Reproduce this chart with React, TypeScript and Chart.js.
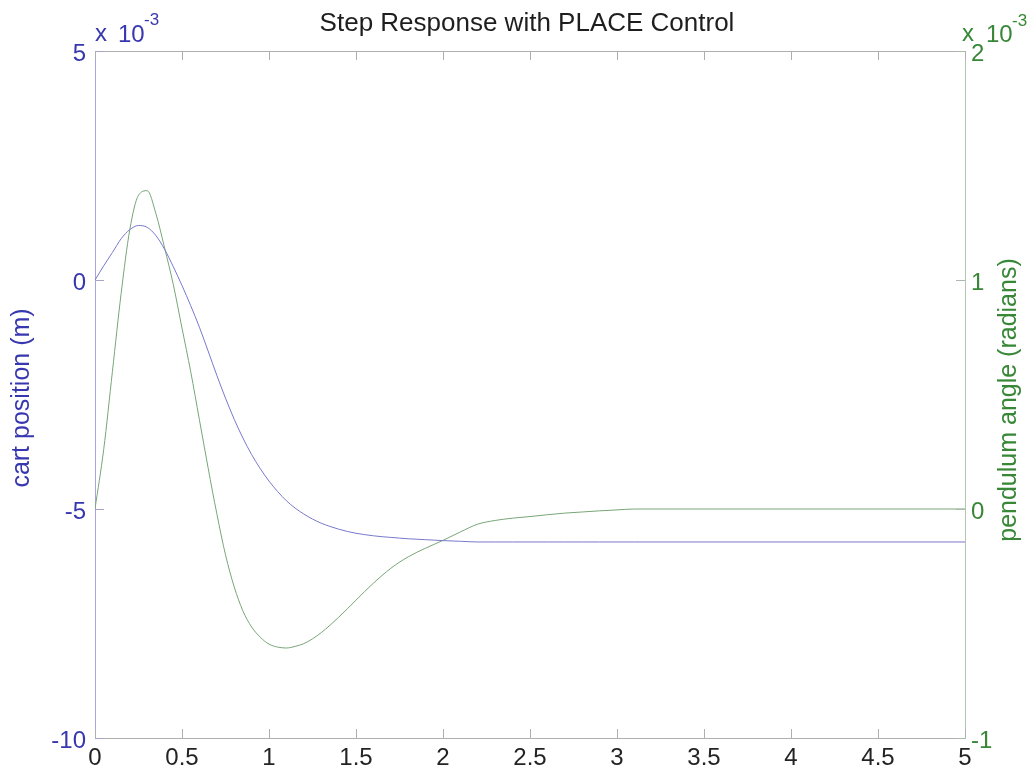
import React, { useEffect, useRef } from "react";
import { Chart, registerables } from "chart.js";

Chart.register(...registerables);

// Time samples (s)
const TIME = [
  0, 0.05, 0.1, 0.15, 0.2, 0.25, 0.3, 0.35, 0.4, 0.45,
  0.5, 0.55, 0.6, 0.65, 0.7, 0.75, 0.8, 0.85, 0.9, 0.95,
  1.0, 1.05, 1.1, 1.15, 1.2, 1.25, 1.3, 1.35, 1.4, 1.45,
  1.5, 1.55, 1.6, 1.65, 1.7, 1.75, 1.8, 1.85, 1.9, 1.95,
  2.0, 2.1, 2.2, 2.3, 2.4, 2.5, 2.6, 2.7, 2.8, 2.9,
  3.0, 3.1, 3.5, 4.0, 4.5, 5.0,
];
// cart position (x 10^-3 m)
const CART_POSITION = [
  0, 0.31, 0.6, 0.9, 1.1, 1.19, 1.15, 0.97, 0.67, 0.29,
  -0.12, -0.56, -1.03, -1.55, -2.08, -2.58, -3.04, -3.45, -3.81, -4.12,
  -4.39, -4.62, -4.82, -4.98, -5.11, -5.22, -5.31, -5.38, -5.44, -5.49,
  -5.53, -5.56, -5.585, -5.605, -5.62, -5.635, -5.65, -5.66, -5.67, -5.68,
  -5.69, -5.705, -5.72, -5.72, -5.72, -5.72, -5.72, -5.72, -5.72, -5.72,
  -5.72, -5.72, -5.72, -5.72, -5.72, -5.72,
];
// pendulum angle (x 10^-3 rad)
const PENDULUM_ANGLE = [
  0, 0.26, 0.6, 0.94, 1.22, 1.37, 1.39, 1.29, 1.14, 0.98,
  0.79, 0.6, 0.39, 0.18, -0.02, -0.2, -0.34, -0.445, -0.515, -0.56,
  -0.59, -0.603, -0.607, -0.6, -0.588, -0.567, -0.54, -0.508, -0.473, -0.436,
  -0.398, -0.36, -0.324, -0.29, -0.259, -0.232, -0.209, -0.189, -0.171, -0.154,
  -0.137, -0.1, -0.066, -0.05, -0.04, -0.033, -0.025, -0.018, -0.013, -0.008,
  -0.004, 0, 0, 0, 0, 0,
];

const X_TICKS = [0, 0.5, 1, 1.5, 2, 2.5, 3, 3.5, 4, 4.5, 5];
const LEFT_TICKS = [-10, -5, 0, 5];
const RIGHT_TICKS = [-1, 0, 1, 2];

const TITLE = "Step Response with PLACE Control";
const LEFT_LABEL = "cart position (m)";
const RIGHT_LABEL = "pendulum angle (radians)";

const FONT = '"Liberation Sans", Arial, Helvetica, sans-serif';
const BLUE_TEXT = "rgb(55,55,175)";
const GREEN_TEXT = "rgb(55,135,55)";
const BLUE_LINE = "rgb(120,120,205)";
const GREEN_LINE = "rgb(120,165,120)";
const FRAME = "rgb(175,175,175)";

const decorPlugin = {
  id: "matlabDecor",
  afterDraw(chart: any) {
    const { ctx, chartArea } = chart;
    const { left, right, top, bottom } = chartArea;
    const xs = chart.scales.x;
    const yl = chart.scales.y;
    const yr = chart.scales.y1;
    const TL = 9;
    ctx.save();
    ctx.lineWidth = 1;
    // top border
    ctx.strokeStyle = FRAME;
    ctx.beginPath();
    ctx.moveTo(left, top + 0.5);
    ctx.lineTo(right, top + 0.5);
    ctx.stroke();
    // x ticks (bottom & top)
    X_TICKS.forEach((v) => {
      const px = Math.round(xs.getPixelForValue(v)) + 0.5;
      ctx.beginPath();
      ctx.moveTo(px, bottom);
      ctx.lineTo(px, bottom - TL);
      ctx.moveTo(px, top);
      ctx.lineTo(px, top + TL);
      ctx.stroke();
    });
    // left ticks
    ctx.strokeStyle = "rgb(165,165,200)";
    LEFT_TICKS.forEach((v) => {
      const py = Math.round(yl.getPixelForValue(v)) + 0.5;
      ctx.beginPath();
      ctx.moveTo(left, py);
      ctx.lineTo(left + TL, py);
      ctx.stroke();
    });
    // right ticks
    ctx.strokeStyle = "rgb(170,185,170)";
    RIGHT_TICKS.forEach((v) => {
      const py = Math.round(yr.getPixelForValue(v)) + 0.5;
      ctx.beginPath();
      ctx.moveTo(right, py);
      ctx.lineTo(right - TL, py);
      ctx.stroke();
    });

    // title
    ctx.fillStyle = "rgb(30,30,30)";
    ctx.font = `26px ${FONT}`;
    ctx.textAlign = "center";
    ctx.textBaseline = "middle";
    ctx.fillText(TITLE, 527, 24);

    // left axis title
    ctx.font = `25px ${FONT}`;
    ctx.save();
    ctx.translate(22, 398);
    ctx.rotate(-Math.PI / 2);
    ctx.fillStyle = BLUE_TEXT;
    ctx.fillText(LEFT_LABEL, 0, 0);
    ctx.restore();

    // right axis title
    ctx.save();
    ctx.translate(1009, 400);
    ctx.rotate(-Math.PI / 2);
    ctx.fillStyle = GREEN_TEXT;
    ctx.fillText(RIGHT_LABEL, 0, 0);
    ctx.restore();

    // exponent labels
    ctx.textAlign = "left";
    ctx.textBaseline = "alphabetic";
    ctx.fillStyle = BLUE_TEXT;
    ctx.font = `24px ${FONT}`;
    ctx.fillText("x", 95, 41);
    ctx.fillText("10", 118, 42);
    ctx.font = `17px ${FONT}`;
    ctx.fillText("-3", 144, 25);

    ctx.fillStyle = GREEN_TEXT;
    ctx.font = `24px ${FONT}`;
    ctx.fillText("x", 962, 41);
    ctx.fillText("10", 986, 42);
    ctx.font = `17px ${FONT}`;
    ctx.fillText("-3", 1012, 26);
    ctx.restore();
  },
};

export default function App() {
  const ref = useRef<HTMLCanvasElement | null>(null);
  useEffect(() => {
    if (!ref.current) return;
    const cart = TIME.map((t, i) => ({ x: t, y: CART_POSITION[i] }));
    const ang = TIME.map((t, i) => ({ x: t, y: PENDULUM_ANGLE[i] }));
    const chart = new Chart(ref.current, {
      type: "line",
      data: {
        datasets: [
          {
            label: "cart position",
            data: cart,
            yAxisID: "y",
            borderColor: BLUE_LINE,
            borderWidth: 1,
            pointRadius: 0,
            fill: false,
            cubicInterpolationMode: "monotone",
          },
          {
            label: "pendulum angle",
            data: ang,
            yAxisID: "y1",
            borderColor: GREEN_LINE,
            borderWidth: 1,
            pointRadius: 0,
            fill: false,
            cubicInterpolationMode: "monotone",
          },
        ],
      },
      options: {
        responsive: false,
        animation: false,
        layout: { padding: { top: 51, left: 0, right: 0, bottom: 0 } },
        plugins: {
          legend: { display: false },
          tooltip: { enabled: false },
          title: { display: false },
        },
        scales: {
          x: {
            type: "linear",
            min: 0,
            max: 5,
            afterFit: (s: any) => {
              s.height = 36;
            },
            afterBuildTicks: (s: any) => {
              s.ticks = X_TICKS.map((v) => ({ value: v }));
            },
            grid: { display: true, drawOnChartArea: false, drawTicks: false, tickLength: 0 },
            border: { display: true, color: FRAME, width: 1 },
            ticks: {
              padding: 6,
              maxRotation: 0,
              autoSkip: false,
              color: "rgb(35,35,35)",
              font: { family: FONT, size: 24 },
              callback: (v: any) => String(v),
            },
          },
          y: {
            type: "linear",
            position: "left",
            min: -10,
            max: 5,
            afterFit: (s: any) => {
              s.width = 95;
            },
            afterBuildTicks: (s: any) => {
              s.ticks = LEFT_TICKS.map((v) => ({ value: v }));
            },
            grid: { display: true, drawOnChartArea: false, drawTicks: false, tickLength: 0 },
            border: { display: true, color: "rgb(165,165,230)", width: 1 },
            ticks: {
              padding: 9,
              labelOffset: 3,
              autoSkip: false,
              color: BLUE_TEXT,
              font: { family: FONT, size: 24 },
              callback: (v: any) => String(v),
            },
          },
          y1: {
            type: "linear",
            position: "right",
            min: -1,
            max: 2,
            afterFit: (s: any) => {
              s.width = 68;
            },
            afterBuildTicks: (s: any) => {
              s.ticks = RIGHT_TICKS.map((v) => ({ value: v }));
            },
            grid: { display: true, drawOnChartArea: false, drawTicks: false, tickLength: 0 },
            border: { display: true, color: "rgb(175,200,175)", width: 1 },
            ticks: {
              padding: 6,
              labelOffset: 3,
              autoSkip: false,
              color: GREEN_TEXT,
              font: { family: FONT, size: 24 },
              callback: (v: any) => String(v),
            },
          },
        },
      },
      plugins: [decorPlugin],
    } as any);
    return () => chart.destroy();
  }, []);
  return (
    <div style={{ position: "absolute", left: 0, top: 0, width: 1033, height: 774, background: "#fff" }}>
      <canvas ref={ref} width={1033} height={774} />
    </div>
  );
}
